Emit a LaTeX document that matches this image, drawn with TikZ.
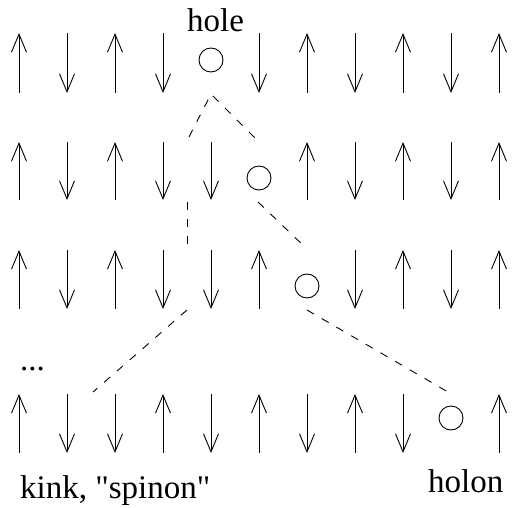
\documentclass[tikz,border=0pt]{standalone}
\usepackage{fontspec}
\setmainfont{Liberation Serif}[Ligatures=TeXOff]
\usetikzlibrary{arrows.meta}

\tikzset{
  spin/.style={line width=0.9pt, -{Straight Barb[length=18pt,width=15pt,line width=0.9pt]}},
  buco/.style={draw, circle, minimum size=24pt, inner sep=0pt, line width=0.9pt},
  parete/.style={line width=0.9pt, dash pattern=on 8pt off 9pt},
  etichetta/.style={font=\fontsize{33}{38}\selectfont, inner sep=0pt}
}

\begin{document}
\begin{tikzpicture}[x=1pt, y=-1pt]
  \useasboundingbox (0,0) rectangle (512,508);

  % riga 1
  \foreach \c in {0,2,6,8,10} \draw[spin] ({19+48*\c},93) -- ({19+48*\c},33);
  \foreach \c in {1,3,5,7,9} \draw[spin] ({19+48*\c},33) -- ({19+48*\c},93);
  \node[buco] (h1) at (211,60) {};

  % riga 2
  \foreach \c in {0,2,6,8,10} \draw[spin] ({19+48*\c},200) -- ({19+48*\c},142);
  \foreach \c in {1,3,4,7,9} \draw[spin] ({19+48*\c},142) -- ({19+48*\c},200);
  \node[buco] (h2) at (259,178) {};

  % riga 3
  \foreach \c in {0,2,5,8,10} \draw[spin] ({19+48*\c},309) -- ({19+48*\c},250);
  \foreach \c in {1,3,4,7,9} \draw[spin] ({19+48*\c},250) -- ({19+48*\c},309);
  \node[buco] (h3) at (307,286) {};

  % riga 4
  \foreach \c in {0,3,5,7,10} \draw[spin] ({19+48*\c},453) -- ({19+48*\c},394);
  \foreach \c in {1,2,4,6,8} \draw[spin] ({19+48*\c},394) -- ({19+48*\c},453);
  \node[buco] (h4) at (451,418) {};

  % pareti tratteggiate
  \coordinate (v1) at (211,94);
  \coordinate (s1) at (189,137);
  \coordinate (d1) at (258,141);
  \coordinate (s2a) at (187,202);
  \coordinate (s2b) at (187,250);
  \coordinate (d2a) at (258,202);
  \coordinate (d2b) at (307,249);
  \coordinate (s3a) at (187,310);
  \coordinate (s3b) at (93,392);
  \coordinate (d3a) at (307,310);
  \coordinate (d3b) at (448,392);
  \draw[parete] (s1) -- (v1) -- (d1);
  \draw[parete] (s2a) -- (s2b);
  \draw[parete] (d2a) -- (d2b);
  \draw[parete] (s3a) -- (s3b);
  \draw[parete] (d3a) -- (d3b);

  % etichette
  \node[etichetta, anchor=base] (hole) at (215.5,32) {hole};
  \node[etichetta, anchor=base west] (dots) at (20,370) {...};
  \node[etichetta, anchor=base west] (kink) at (20,498) {kink, "spinon"};
  \node[etichetta, anchor=base west] (holon) at (428,492) {holon};
\end{tikzpicture}
\end{document}
